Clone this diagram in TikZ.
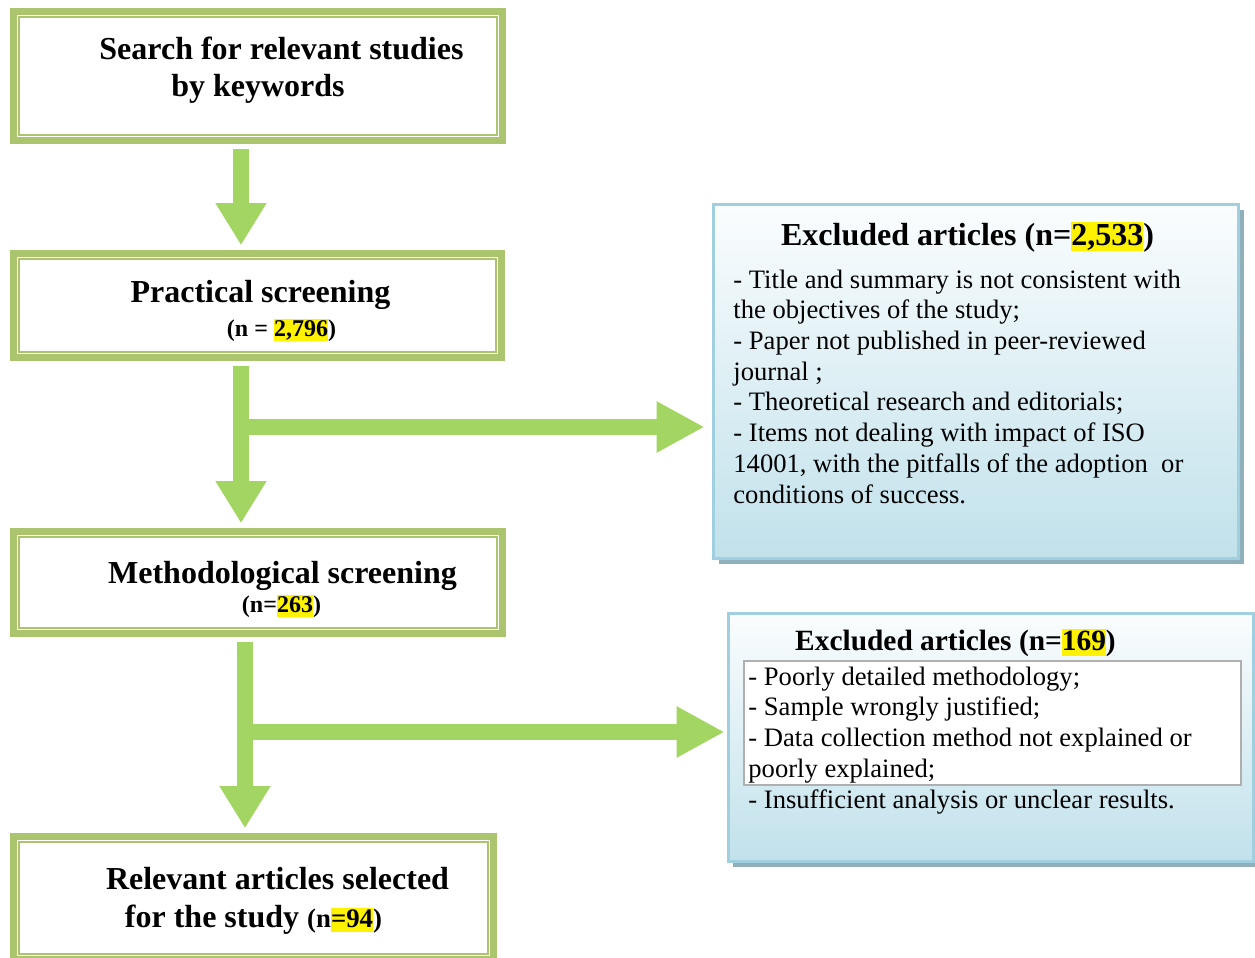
\documentclass[tikz,border=0pt]{standalone}
\usepackage{fontspec}
\setmainfont{Liberation Serif}
\usetikzlibrary{arrows.meta,calc,shadows}
\definecolor{stagegreen}{RGB}{171,196,110}
\definecolor{flowgreen}{RGB}{162,213,97}
\definecolor{exclline}{RGB}{160,208,224}
\definecolor{excltop}{RGB}{250,253,254}
\definecolor{exclbottom}{RGB}{193,225,235}
\definecolor{exclshadow}{RGB}{143,176,186}
\definecolor{listline}{RGB}{175,175,175}
\newcommand{\hl}[1]{{\setlength{\fboxsep}{0pt}\colorbox{yellow}{\rule[-0.2em]{0pt}{0.92em}#1}}}

\begin{document}
\begin{tikzpicture}[x=0.5pt,y=-0.5pt,
  stage/.style={draw=stagegreen,line width=3.8pt,inner sep=0pt},
  stagetxt/.style={font=\fontsize{16}{19}\selectfont\bfseries,anchor=base,inner sep=0pt},
  counttxt/.style={font=\fontsize{12}{14}\selectfont\bfseries,anchor=base,inner sep=0pt},
  excl/.style={draw=exclline,line width=1.5pt,top color=excltop,bottom color=exclbottom,
    drop shadow={shadow xshift=2.5pt,shadow yshift=-2.5pt,fill=exclshadow,opacity=1}},
  listtxt/.style={font=\fontsize{13.3}{15.35}\selectfont,align=left,anchor=base west,inner sep=0pt},
  flow/.style={draw=flowgreen,line width=8pt,-{Triangle[width=24pt,length=21pt]},
    shorten <=2.25pt,shorten >=2.25pt},
  side/.style={-{Triangle[width=24pt,length=24pt]},shorten <=0pt}]
  \useasboundingbox (0,0) rectangle (1255,958);

  \node[stage,minimum width=244.5pt,minimum height=64.5pt] (search) at (258,76) {};
  \node[stage,minimum width=244pt,minimum height=52pt] (prac) at (257.5,305.5) {};
  \node[stage,minimum width=244.5pt,minimum height=51pt] (meth) at (258,582.5) {};
  \node[stage,minimum width=240pt,minimum height=61.5pt] (result) at (253.5,898) {};
  \foreach \n in {search,prac,meth,result}
    \draw[stagegreen,line width=1.1pt] ([shift={(9.5,9.5)}]\n.north west) rectangle ([shift={(-9.5,-9.5)}]\n.south east);

  \node[stagetxt] (searchA) at (281.5,60) {Search for relevant studies};
  \node[stagetxt] (searchB) at (258,97) {by keywords};
  \node[stagetxt] (pracA) at (260.5,302) {Practical screening};
  \node[counttxt] (pracB) at (281.5,336) {(n = \hl{2,796})};
  \node[stagetxt] (methA) at (282.5,583) {Methodological screening};
  \node[counttxt] (methB) at (281.5,612) {(n=\hl{263})};
  \node[stagetxt] (resultA) at (277.5,889) {Relevant articles selected};
  \node[stagetxt] (resultB) at (253.5,927) {for the study {\fontsize{13.4}{16}\selectfont(n\hl{=94})}};

  \node[excl,minimum width=262.5pt,minimum height=177pt] (exclA) at (976,381.5) {};
  \node[stagetxt] (exclAtitle) at (967.5,245) {Excluded articles (n=\hl{2,533})};
  \node[listtxt] (exclAlist) at (733,503) {- Title and summary is not consistent with\\
    the objectives of the study;\\
    - Paper not published in peer-reviewed\\
    journal ;\\
    - Theoretical research and editorials;\\
    - Items not dealing with impact of ISO\\
    14001, with the pitfalls of the adoption\ \ or\\
    conditions of success.};

  \node[excl,minimum width=262.5pt,minimum height=124pt] (exclB) at (990.5,737.5) {};
  \node[draw=listline,fill=white,line width=0.6pt,inner sep=0pt,
    minimum width=248.5pt,minimum height=62pt] (exclBbox) at (992.5,723) {};
  \node[stagetxt,font=\fontsize{14.7}{17.5}\selectfont\bfseries] (exclBtitle) at (955.5,650) {Excluded articles (n=\hl{169})};
  \node[listtxt] (exclBlist) at (748,808) {- Poorly detailed methodology;\\
    - Sample wrongly justified;\\
    - Data collection method not explained or\\
    poorly explained;\\
    - Insufficient analysis or unclear results.};

  \coordinate (forkA) at (241,427);
  \coordinate (forkB) at (245,732);
  \draw[flow] (search.south -| forkA) -- (prac.north -| forkA);
  \draw[flow] (prac.south -| forkA) -- (meth.north -| forkA);
  \draw[flow,side,shorten >=3.75pt] (forkA) -- (exclA.west |- forkA);
  \draw[flow] (meth.south -| forkB) -- (result.north -| forkB);
  \draw[flow,side,shorten >=1pt] (forkB) -- (exclB.west |- forkB);
\end{tikzpicture}
\end{document}
